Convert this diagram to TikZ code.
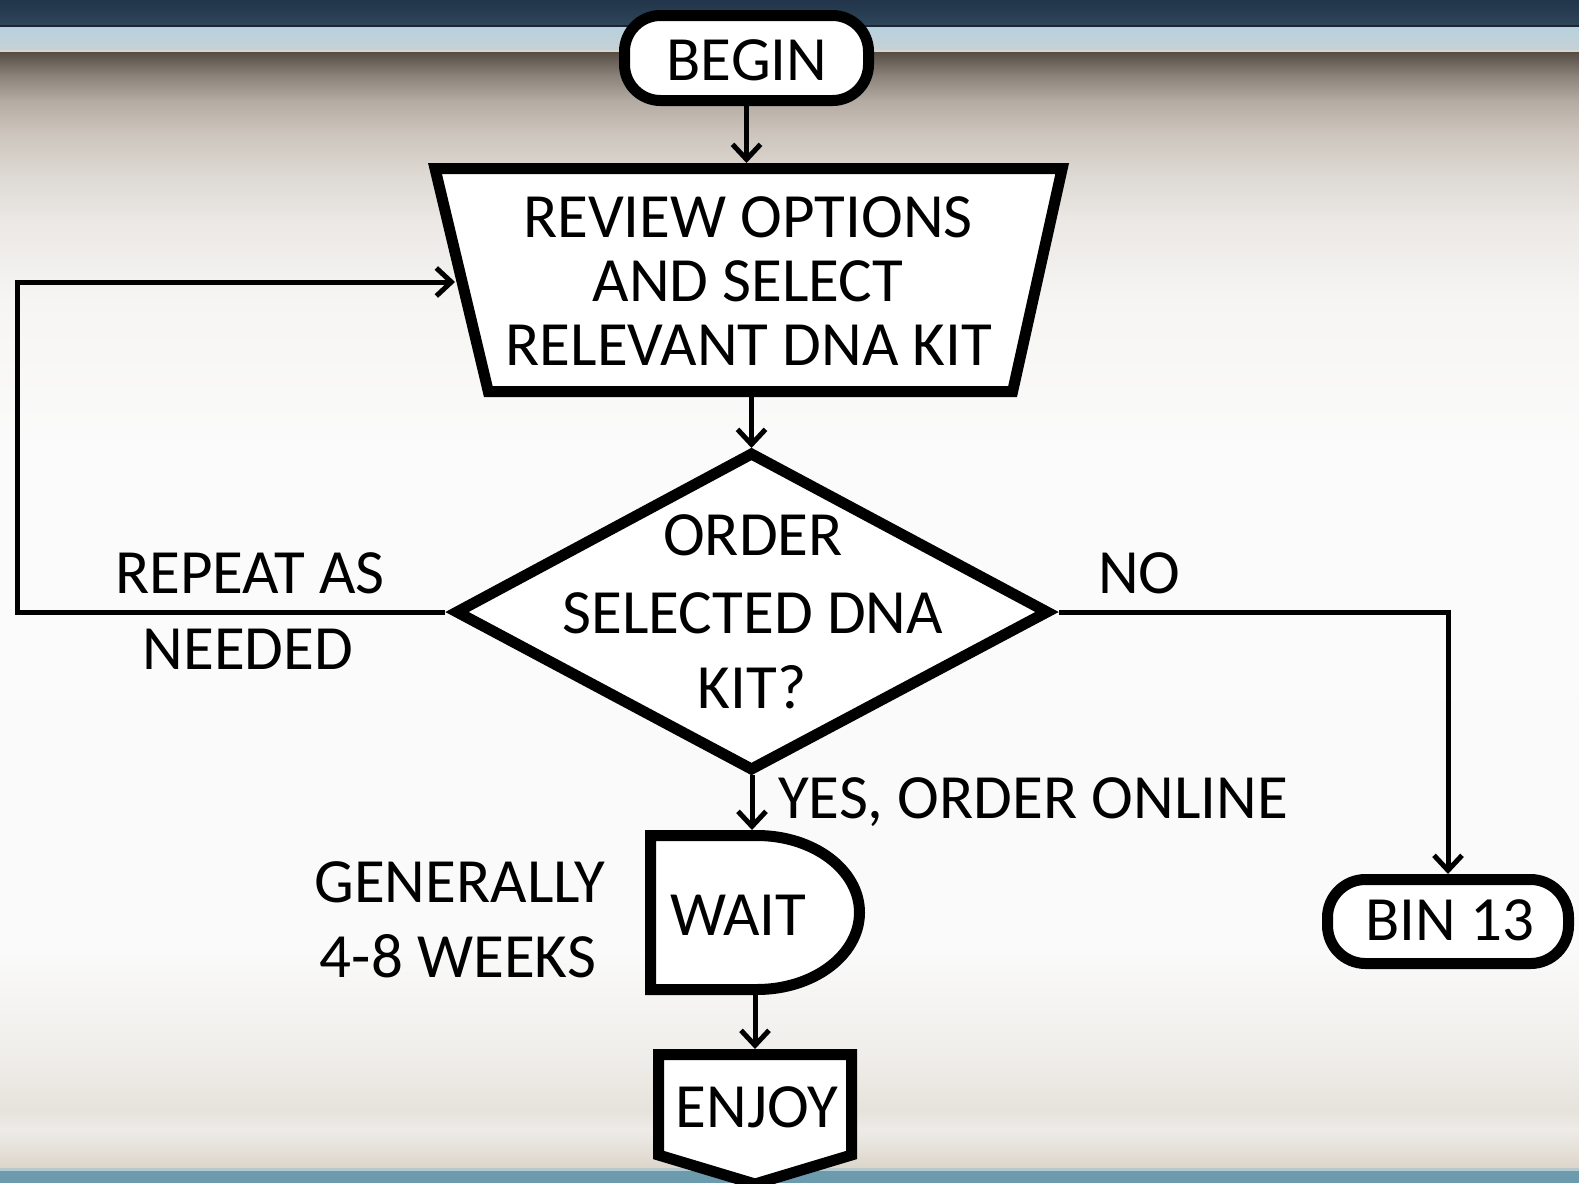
\documentclass[tikz,border=0pt]{standalone}
\usepackage{fontspec}
\setmainfont{Carlito}
\usetikzlibrary{arrows.meta}
\definecolor{navyA}{HTML}{22354A}
\definecolor{navyB}{HTML}{2F4559}
\definecolor{navyLine}{HTML}{1C2733}
\definecolor{skyA}{HTML}{B7D1DE}
\definecolor{skyB}{HTML}{C6D1D6}
\definecolor{sepLine}{HTML}{D8D6D0}
\definecolor{g0}{HTML}{564E45}
\definecolor{g1}{HTML}{8A8178}
\definecolor{g2}{HTML}{B3ABA1}
\definecolor{g3}{HTML}{CBC3BB}
\definecolor{g4}{HTML}{DCD7D1}
\definecolor{g5}{HTML}{EBE8E5}
\definecolor{g6}{HTML}{F6F5F3}
\definecolor{g7}{HTML}{FBFBFB}
\definecolor{g8}{HTML}{FAFAFA}
\definecolor{g9}{HTML}{EFEDE9}
\definecolor{g10}{HTML}{E6E3DD}
\definecolor{g11}{HTML}{EEEBE8}
\definecolor{g12}{HTML}{DCD5CA}
\definecolor{tealLine}{HTML}{B5C9CF}
\definecolor{teal}{HTML}{6B9BAD}
\begin{document}
\begin{tikzpicture}[x=1pt,y=-1pt]
\tikzset{
  shp/.style={draw=black, line width=11pt, fill=white, line join=miter},
  conn/.style={draw=black, line width=5pt, -{Straight Barb[length=15pt,width=28pt]}},
  lbl/.style={font=\fontsize{63}{63}\selectfont, inner sep=0pt, anchor=base, text=black},
  lblw/.style={lbl, anchor=base west},
  bg/.style={draw=none}
}
\useasboundingbox (0,0) rectangle (1579,1183);
% ---------- background ----------
\shade[bg, top color=navyA, bottom color=navyB] (0,0) rectangle (1579,25);
\fill[navyLine] (0,24.5) rectangle (1579,27);
\shade[bg, top color=skyA, bottom color=skyB] (0,27) rectangle (1579,50);
\fill[sepLine] (0,50) rectangle (1579,52.5);
\shade[bg, top color=g0, bottom color=g1] (0,52) rectangle (1579,75.5);
\shade[bg, top color=g1, bottom color=g2] (0,75) rectangle (1579,100.5);
\shade[bg, top color=g2, bottom color=g3] (0,100) rectangle (1579,130.5);
\shade[bg, top color=g3, bottom color=g4] (0,130) rectangle (1579,170.5);
\shade[bg, top color=g4, bottom color=g5] (0,170) rectangle (1579,220.5);
\shade[bg, top color=g5, bottom color=g6] (0,220) rectangle (1579,300.5);
\shade[bg, top color=g6, bottom color=g7] (0,300) rectangle (1579,450.5);
\shade[bg, top color=g7, bottom color=g8] (0,450) rectangle (1579,950.5);
\shade[bg, top color=g8, bottom color=g9] (0,950) rectangle (1579,1060.5);
\shade[bg, top color=g9, bottom color=g10] (0,1060) rectangle (1579,1110.5);
\shade[bg, top color=g10, bottom color=g11] (0,1110) rectangle (1579,1130.5);
\shade[bg, top color=g11, bottom color=g12] (0,1130) rectangle (1579,1168.5);
\fill[tealLine] (0,1168) rectangle (1579,1171);
\fill[teal] (0,1171) rectangle (1579,1183);
% ---------- shapes ----------
\node[shp, rounded corners=36pt, minimum width=244pt, minimum height=85pt, inner sep=0pt] (begin) at (746.5,58) {};
\path[shp] (435,168.5) -- (1062.2,168.5) -- (1012.6,391.5) -- (488.3,391.5) -- cycle;
\path[shp] (751.5,454) -- (1047,612) -- (751.5,769) -- (457,612) -- cycle;
\path[shp] (650.5,835.5) -- (757,835.5) .. controls (813.6,835.5) and (859.5,870) .. (859.5,912.5)
   .. controls (859.5,955) and (813.6,989.5) .. (757,989.5) -- (650.5,989.5) -- cycle;
\path[shp] (658.5,1054.5) -- (851.5,1054.5) -- (851.5,1155) -- (755,1184) -- (658.5,1155) -- cycle;
\node[shp, rounded corners=38pt, minimum width=241pt, minimum height=84pt, inner sep=0pt] (bin) at (1448,921.5) {};
% ---------- connection points ----------
\coordinate (revT) at (746.5,163);
\coordinate (revB) at (751.5,397);
\coordinate (revL) at (455,282);
\coordinate (decT) at (751.5,448);
\coordinate (decB) at (752,775);
\coordinate (decL) at (445,612);
\coordinate (decR) at (1059,612);
\coordinate (loopA) at (17,612);
\coordinate (waitT) at (752,830);
\coordinate (waitB) at (755,995);
\coordinate (enjT) at (755,1049);
% ---------- connectors ----------
\draw[conn] (begin.south) -- (revT);
\draw[conn] (revB) -- (decT);
\draw[conn] (decL) -- (loopA) |- (revL);
\draw[conn] (decR) -| (bin.north);
\draw[conn] (decB) -- (waitT);
\draw[conn] (waitB) -- (enjT);
% ---------- texts ----------
\node[lbl] (tBegin) at (747,80) {BEGIN};
\node[lbl] (tRev1) at (748,237) {REVIEW OPTIONS};
\node[lbl] (tRev2) at (748,301) {AND SELECT};
\node[lbl] (tRev3) at (749,365) {RELEVANT DNA KIT};
\node[lbl] (tDec1) at (753,555) {ORDER};
\node[lbl] (tDec2) at (753,633) {SELECTED DNA};
\node[lbl] (tDec3) at (752,708) {KIT?};
\node[lbl] (tRep1) at (250,593) {REPEAT AS};
\node[lbl] (tRep2) at (248,669) {NEEDED};
\node[lblw] (tNo) at (1098,593) {NO};
\node[lblw] (tYes) at (778,818) {YES, ORDER ONLINE};
\node[lbl] (tGen1) at (460,902) {GENERALLY};
\node[lbl] (tGen2) at (458,977) {4-8 WEEKS};
\node[lblw] (tWait) at (670,935) {WAIT};
\node[lbl] (tBin) at (1450,940) {BIN 13};
\node[lbl] (tEnjoy) at (757,1127) {ENJOY};
\end{tikzpicture}
\end{document}
